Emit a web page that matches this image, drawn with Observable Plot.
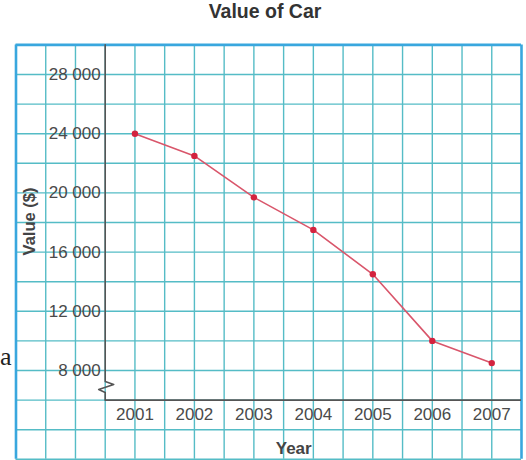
<!DOCTYPE html>
<html>
<head>
<meta charset="utf-8">
<script src="https://cdn.jsdelivr.net/npm/d3@7"></script>
<script src="https://cdn.jsdelivr.net/npm/@observablehq/plot@0.6"></script>
<style>
  html, body { margin: 0; padding: 0; background: #fff; }
  #title {
    width: 526px; height: 30px; line-height: 31px; box-sizing: border-box; padding-left: 4px;
    text-align: center; font: bold 19.5px "Liberation Sans", Arial, Helvetica, sans-serif; color: #333;
    overflow: visible;
  }
  #chart svg { display: block; }
</style>
</head>
<body>
<div id="title"></div>
<div id="chart"></div>
<script>
// ---- data ----
const chartTitle = "Value of Car";
const xLabel = "Year";
const yLabel = "Value ($)";
const marginNote = "a";
const years = [2001, 2002, 2003, 2004, 2005, 2006, 2007];
const values = [24000, 22500, 19700, 17500, 14500, 10000, 8500];
const yTicks = [8000, 12000, 16000, 20000, 24000, 28000];
const yearLabels = ["2001", "2002", "2003", "2004", "2005", "2006", "2007"];

document.getElementById("title").textContent = chartTitle;

const data = years.map((yr, i) => ({year: yr, value: values[i]}));

// graph-paper layout
const xMin = 1999, xMax = 2007.5, yMin = 2000, yMax = 30000;
const axisX = 2000.5, axisY = 6000;
const gridXs = d3.range(xMin + 0.5, xMax, 0.5);
const gridYs = d3.range(yMin, yMax, 2000);
const gridColor = "#55bcc6";
const borderColor = "#39a7de";
const axisColor = "#555";
const fmt = d => d3.format(",")(d).replace(/,/g, " ");

// axis break zigzag (x offsets in years, y in value units)
const pxX = 1 / 59.5, pxY = 1000 / 14.8;
const axisPath = [
  {x: axisX, y: yMax},
  {x: axisX, y: 7257},
  {x: axisX + 8.5 * pxX, y: 7054},
  {x: axisX - 6.5 * pxX, y: 6716},
  {x: axisX, y: 6513},
  {x: axisX, y: axisY}
];

const font = "'Liberation Sans', Arial, Helvetica, sans-serif";

const chart = Plot.plot({
  width: 526,
  height: 430,
  marginLeft: 15.5,
  marginRight: 5,
  marginTop: 14.4,
  marginBottom: 1.2,
  style: {fontFamily: font, background: "#fff", overflow: "visible"},
  x: {domain: [xMin, xMax], axis: null},
  y: {domain: [yMin, yMax], axis: null},
  marks: [
    Plot.ruleX(gridXs, {stroke: gridColor, strokeWidth: 1.4}),
    Plot.ruleY(gridYs, {stroke: gridColor, strokeWidth: 1.4}),
    Plot.ruleX([xMin, xMax], {stroke: borderColor, strokeWidth: 2.6}),
    Plot.ruleY([yMax], {x1: xMin, x2: xMax, stroke: borderColor, strokeWidth: 2.6}),
    Plot.line(axisPath, {x: "x", y: "y", stroke: axisColor, strokeWidth: 1.6}),
    Plot.ruleY([axisY], {x1: axisX, x2: xMax, stroke: axisColor, strokeWidth: 1.6}),
    Plot.text(yTicks, {x: axisX, y: d => d, text: d => fmt(d), textAnchor: "end", dx: -4.5,
      fontSize: 17, fill: "#4a4a4a"}),
    Plot.text(years, {x: d => d, y: 5000, text: (d, i) => yearLabels[i], fontSize: 17, fill: "#4a4a4a"}),
    Plot.text([xLabel], {x: 2003.67, y: 2750, text: d => d, fontSize: 17, fontWeight: "bold", fill: "#444"}),
    Plot.text([yLabel], {x: 1999.227, y: 18070, text: d => d, rotate: -90, fontSize: 16.5, fontWeight: "bold", fill: "#444"}),
    Plot.text([marginNote], {x: 1998.83, y: 8950, text: d => d, fontSize: 26, fontFamily: "'Liberation Serif', 'DejaVu Serif', serif", fill: "#222"}),
    Plot.line(data, {x: "year", y: "value", stroke: "#d9566b", strokeWidth: 1.6}),
    Plot.dot(data, {x: "year", y: "value", r: 3.2, fill: "#d3233f", stroke: "none"})
  ]
});
document.getElementById("chart").appendChild(chart);
</script>
</body>
</html>
